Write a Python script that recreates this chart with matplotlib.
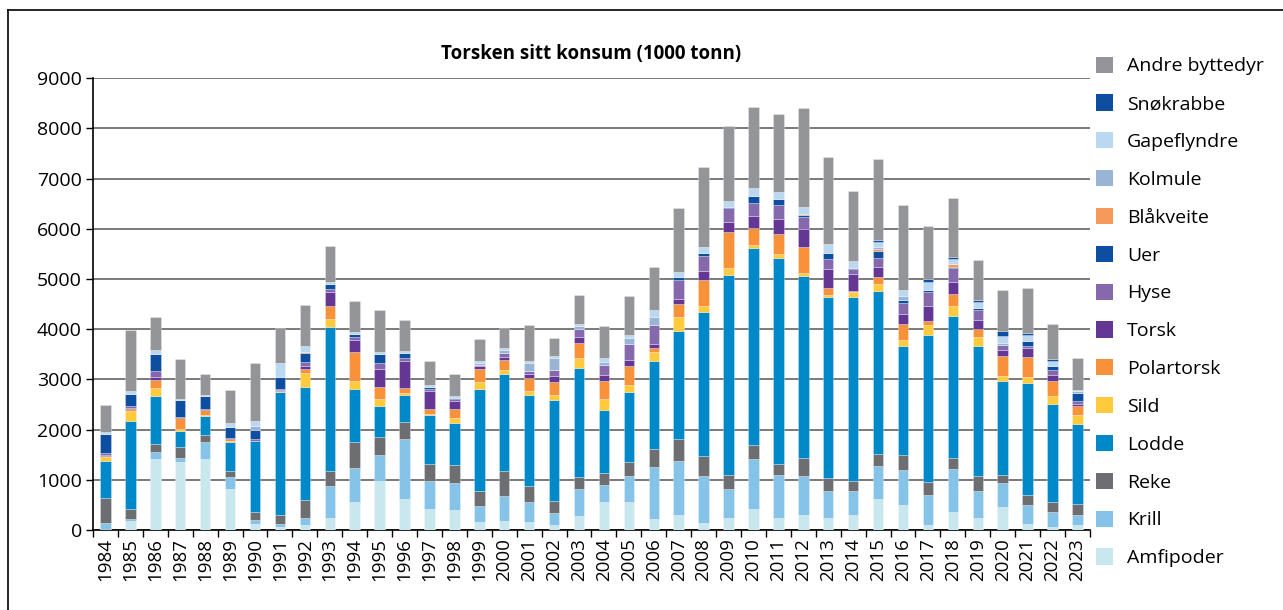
import numpy as np
import matplotlib
matplotlib.use("Agg")
import matplotlib.pyplot as plt
from matplotlib.patches import Patch
from matplotlib.lines import Line2D

plt.rcParams['font.family'] = ['Open Sans', 'DejaVu Sans']

years = [str(y) for y in range(1984, 2024)]

# segment values per year (1000 tonn), bottom of stack first
amfipoder = [20, 180, 1420, 1355, 1410, 815, 115, 65, 100, 240, 550, 980, 620, 415, 405, 160, 180, 165, 100, 285,
             555, 565, 220, 305, 150, 240, 415, 240, 300, 245, 310, 610, 500, 100, 360, 235, 460, 130, 65, 100]
krill = [130, 50, 135, 80, 345, 240, 90, 65, 145, 640, 695, 525, 1185, 555, 530, 320, 500, 400, 240, 535,
         340, 510, 1040, 1080, 920, 580, 1000, 860, 785, 530, 470, 660, 700, 600, 865, 535, 480, 370, 300, 200]
reke = [480, 180, 165, 225, 145, 130, 150, 175, 350, 305, 515, 355, 345, 350, 370, 290, 505, 305, 245, 245,
        250, 280, 355, 430, 400, 270, 280, 210, 350, 265, 200, 245, 290, 250, 215, 300, 165, 200, 200, 215]
lodde = [740, 1760, 950, 310, 375, 575, 1420, 2450, 2250, 2865, 1040, 610, 535, 980, 830, 2030, 1920, 1825, 2005, 2160,
         1250, 1395, 1750, 2150, 2880, 3990, 3920, 4100, 3620, 3595, 3670, 3250, 2180, 2925, 2820, 2590, 1860, 2225, 1940, 1600]
sild = [90, 205, 150, 35, 15, 20, 0, 15, 285, 160, 165, 135, 45, 15, 105, 155, 80, 80, 100, 210,
        220, 135, 180, 285, 105, 140, 60, 85, 55, 55, 85, 135, 105, 200, 205, 180, 110, 115, 160, 175]
polartorsk = [20, 30, 165, 225, 100, 35, 0, 0, 85, 260, 590, 240, 105, 105, 180, 250, 205, 260, 265, 285,
              350, 385, 90, 260, 515, 720, 330, 395, 520, 140, 25, 135, 335, 80, 230, 155, 400, 400, 305, 180]
torsk = [20, 25, 60, 25, 25, 15, 0, 15, 45, 265, 225, 370, 525, 340, 155, 55, 65, 75, 110, 115,
         120, 120, 80, 85, 180, 200, 240, 300, 370, 370, 345, 210, 195, 315, 240, 185, 120, 185, 120, 50]
hyse = [40, 40, 120, 0, 0, 0, 35, 20, 85, 75, 65, 105, 75, 55, 35, 35, 70, 55, 120, 170,
        210, 325, 370, 385, 305, 265, 265, 280, 225, 205, 90, 175, 225, 280, 280, 210, 90, 45, 90, 60]
uer = [380, 235, 340, 330, 250, 220, 185, 250, 180, 95, 65, 185, 90, 35, 20, 0, 0, 0, 0, 0,
       0, 0, 0, 65, 55, 25, 150, 120, 40, 105, 30, 140, 50, 40, 30, 35, 0, 100, 85, 150]
blaakveite = [0, 0, 0, 0, 0, 0, 0, 0, 25, 0, 0, 0, 0, 0, 0, 0, 0, 0, 0, 0,
              0, 0, 0, 0, 0, 0, 0, 0, 35, 0, 0, 35, 0, 0, 60, 0, 0, 0, 0, 0]
kolmule = [0, 0, 0, 0, 0, 0, 80, 0, 0, 0, 0, 0, 0, 0, 0, 40, 55, 170, 245, 55,
           45, 105, 165, 0, 0, 0, 0, 0, 0, 0, 0, 45, 90, 0, 0, 0, 40, 0, 0, 30]
gapeflyndre = [35, 55, 75, 25, 20, 80, 90, 265, 120, 40, 40, 40, 40, 45, 35, 35, 40, 25, 35, 45,
               85, 65, 125, 95, 120, 120, 145, 140, 135, 190, 135, 100, 115, 155, 100, 115, 145, 120, 100, 25]
snokrabbe = [0, 0, 0, 0, 0, 0, 0, 0, 0, 0, 0, 0, 0, 0, 0, 0, 0, 0, 0, 0,
             0, 0, 0, 0, 0, 0, 0, 0, 0, 0, 0, 30, 0, 45, 35, 45, 85, 35, 35, 0]
andre = [530, 1230, 670, 800, 430, 660, 1160, 695, 820, 710, 610, 840, 615, 475, 450, 430, 400, 720, 365, 570,
         630, 780, 860, 1270, 1595, 1500, 1620, 1550, 1970, 1735, 1385, 1610, 1680, 1065, 1180, 790, 820, 895, 695, 640]

series = [
    ("Amfipoder", amfipoder, "#c8e7ef"),
    ("Krill", krill, "#85c4e8"),
    ("Reke", reke, "#6d6e71"),
    ("Lodde", lodde, "#0089c9"),
    ("Sild", sild, "#ffcb3d"),
    ("Polartorsk", polartorsk, "#f7923a"),
    ("Torsk", torsk, "#643795"),
    ("Hyse", hyse, "#8668ac"),
    ("Uer", uer, "#0e4ea0"),
    ("Blåkveite", blaakveite, "#f59a5a"),
    ("Kolmule", kolmule, "#9ab4d5"),
    ("Gapeflyndre", gapeflyndre, "#bbd8f1"),
    ("Snøkrabbe", snokrabbe, "#0e4ea0"),
    ("Andre byttedyr", andre, "#939598"),
]

fig = plt.figure(figsize=(12.83, 6.10), dpi=100)
ax = fig.add_axes([0.0725, 0.131, 0.777, 0.741])

x = np.arange(len(years))
bottom = np.zeros(len(years))
for name, vals, col in series:
    v = np.array(vals, dtype=float)
    ax.bar(x, v, 0.42, bottom=bottom, color=col, edgecolor=(1, 1, 1, 0.5), linewidth=0.4, zorder=3)
    bottom += v

ax.set_ylim(0, 9000)
ax.set_xlim(-0.5, len(years) - 0.5)
ax.set_yticks(range(0, 9001, 1000))
ax.yaxis.grid(True, color="#7a7a7a", linewidth=1.4, zorder=0)
ax.set_axisbelow(True)
ax.tick_params(axis="y", labelsize=14, length=5, width=1, pad=3)

ax.set_xticks(x)
ax.set_xticklabels(years, rotation=90, fontsize=13.5)
ax.set_xticks(np.arange(-0.5, len(years), 1), minor=True)
ax.tick_params(axis="x", which="major", length=0, pad=6)
ax.tick_params(axis="x", which="minor", length=5, width=1)

for s in ["top", "right"]:
    ax.spines[s].set_visible(False)
ax.spines["left"].set_linewidth(1.2)
ax.spines["bottom"].set_linewidth(1.2)

ax.set_title("Torsken sitt konsum (1000 tonn)", fontsize=13.5, fontweight="bold", pad=14)

handles = [Patch(facecolor=col, label=name) for name, _, col in series[::-1]]
fig.legend(handles=handles, loc="upper left", bbox_to_anchor=(0.848, 0.92), frameon=False,
           fontsize=14, handlelength=0.9, handleheight=0.9, handletextpad=0.7,
           labelspacing=0.98, borderaxespad=0)

# figure frame
fig.add_artist(Line2D([0.0065, 0.0065], [0, 0.984], color="black", linewidth=1.2, transform=fig.transFigure))
fig.add_artist(Line2D([0.0065, 1.0], [0.984, 0.984], color="black", linewidth=1.2, transform=fig.transFigure))

fig.savefig("out.png", dpi=100)
